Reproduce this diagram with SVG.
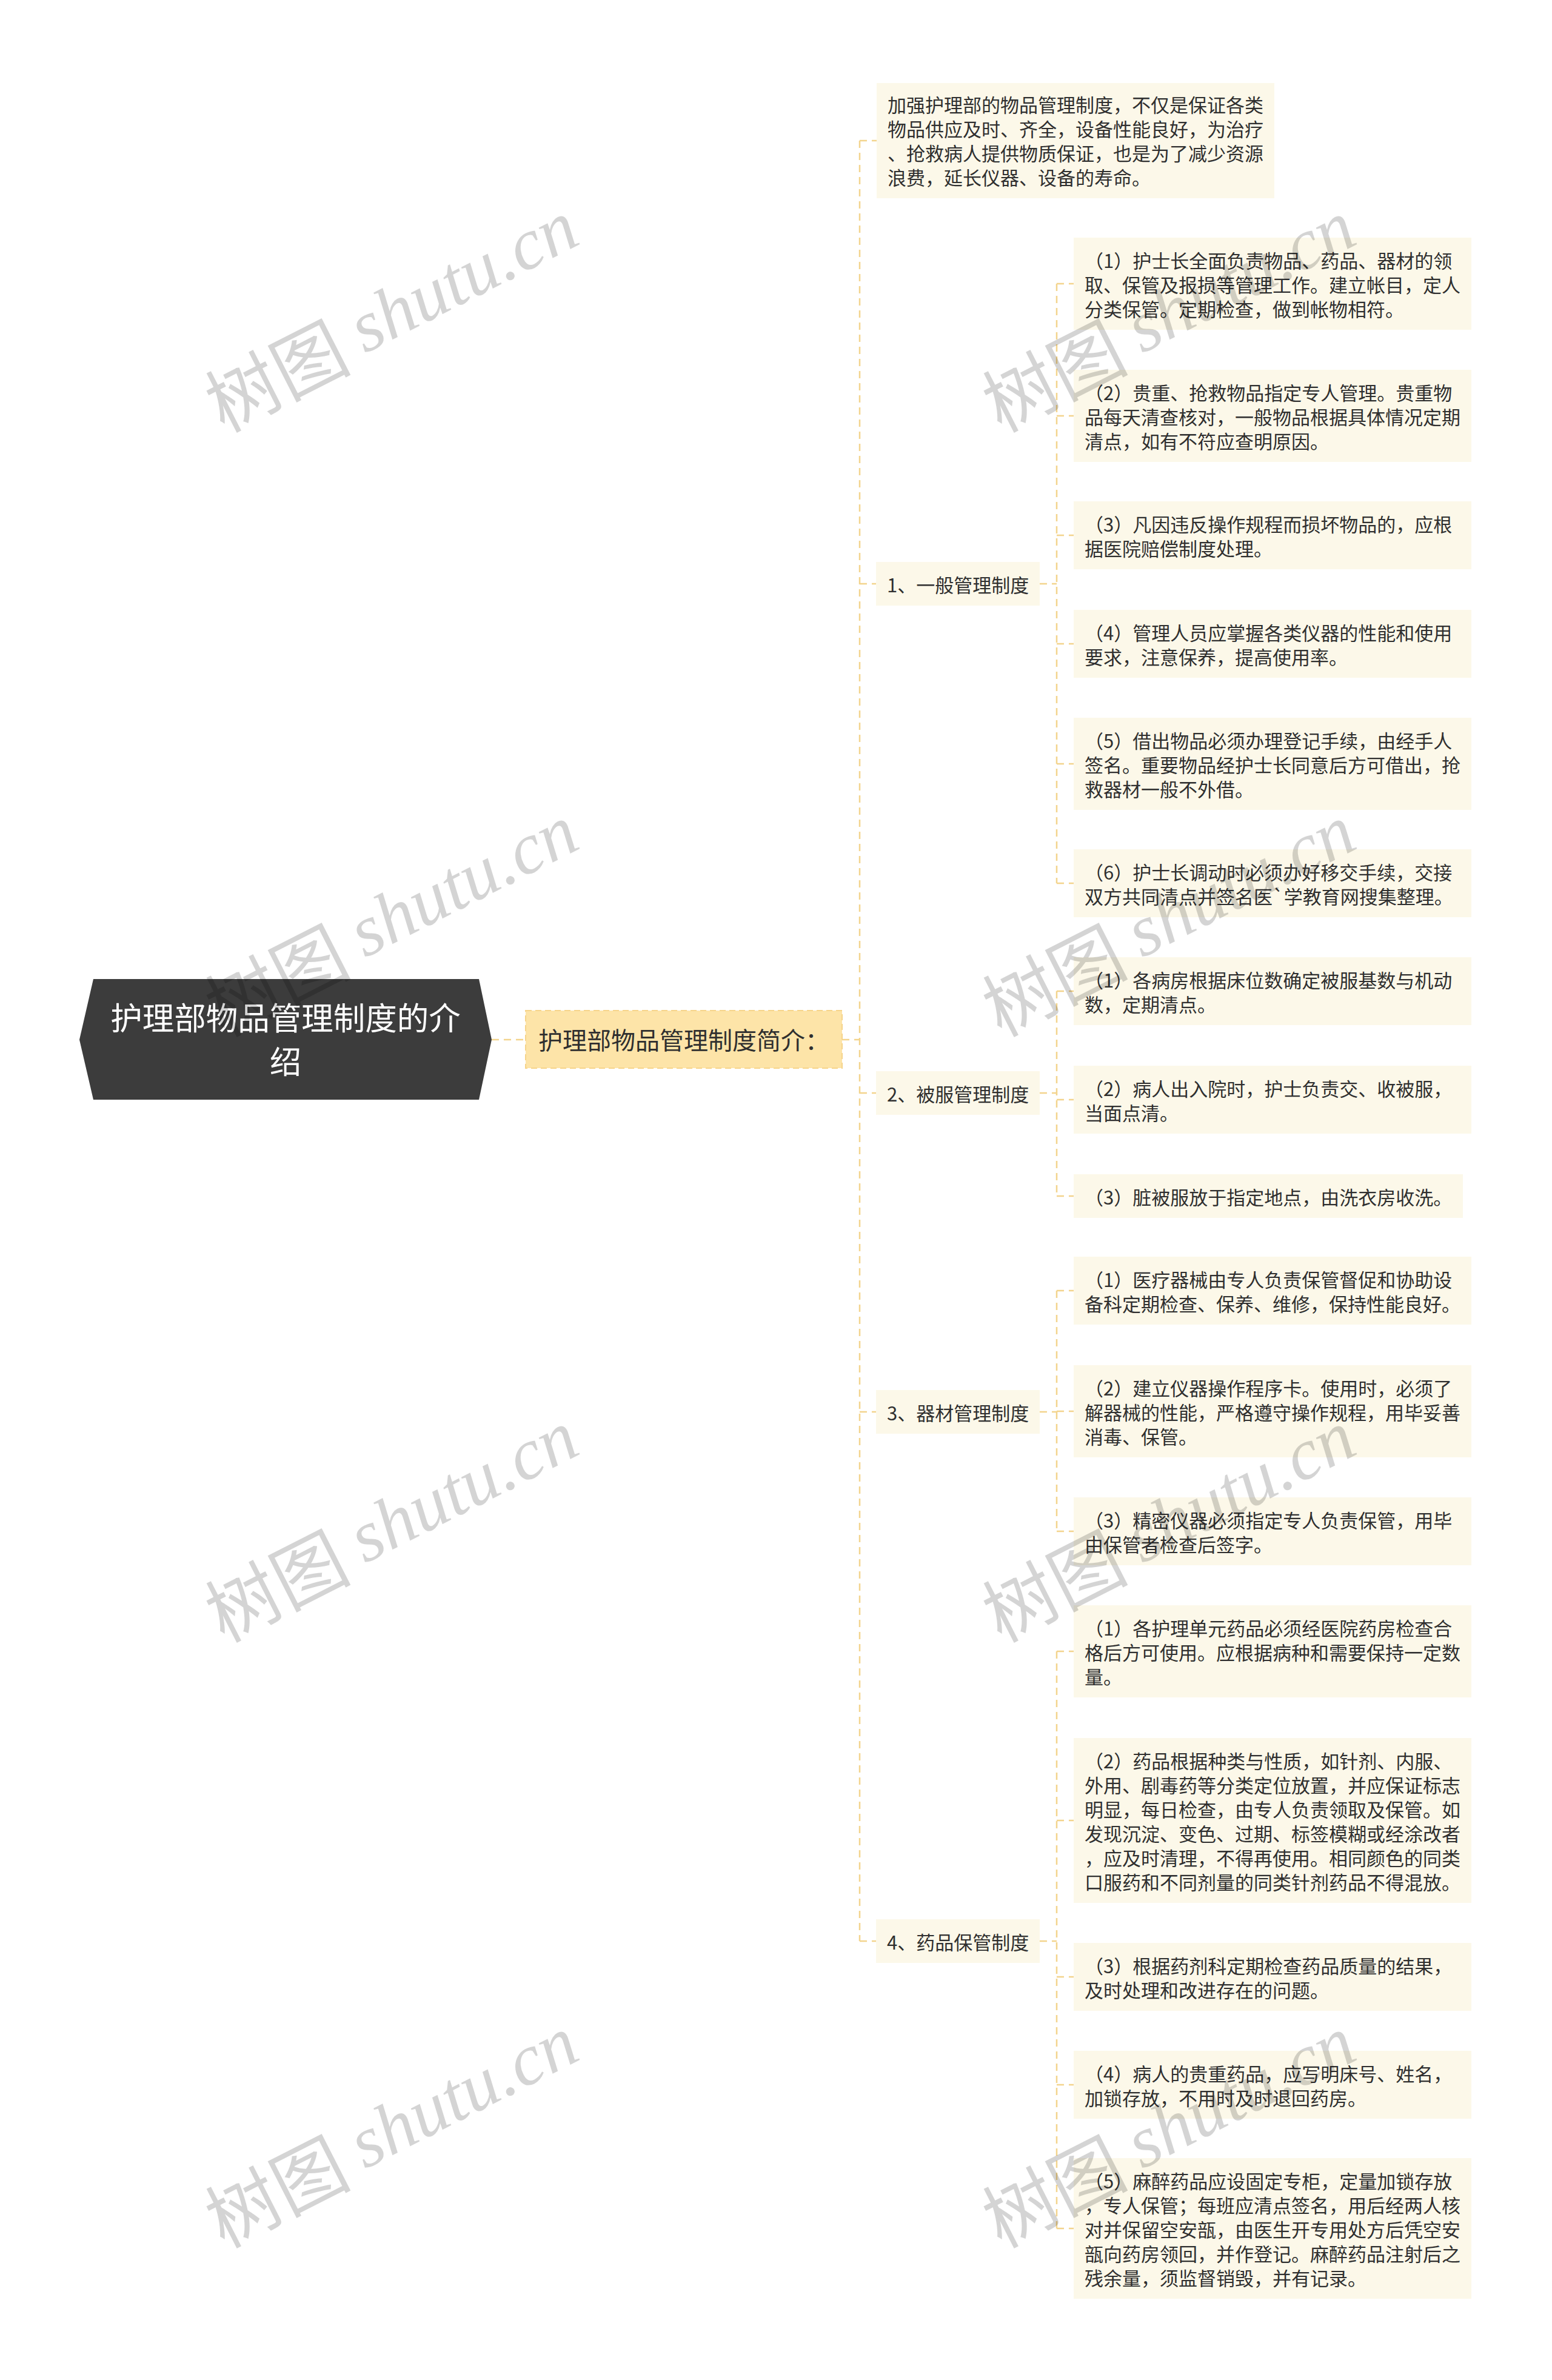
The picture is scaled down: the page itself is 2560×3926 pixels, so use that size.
<svg xmlns="http://www.w3.org/2000/svg" width="2560" height="3926" viewBox="0 0 2560 3926">
<style>
.bg{fill:#ffffff}
.conn{fill:none;stroke:#f3d48d;stroke-width:2.5;stroke-dasharray:12 8}
.box{fill:#fcf8e9}
.main{fill:#fde4a8;stroke:#f6d48a;stroke-width:2;stroke-dasharray:10 6}
.root{fill:#3c3c3c}
.t{font-family:"Noto Sans CJK SC","Microsoft YaHei",sans-serif;font-size:31px;fill:#2f2f2f;dominant-baseline:central}
.l1{font-family:"Noto Sans CJK SC","Microsoft YaHei",sans-serif;font-size:31px;fill:#2f2f2f;dominant-baseline:central}
.mt{font-family:"Noto Sans CJK SC","Microsoft YaHei",sans-serif;font-size:40px;fill:#2f2f2f;dominant-baseline:central}
.rt{font-family:"Noto Sans CJK SC","Microsoft YaHei",sans-serif;font-size:52.5px;fill:#ffffff;dominant-baseline:central;text-anchor:middle}
.wm{font-size:120px;fill:#000000;fill-opacity:0.17;text-anchor:middle;dominant-baseline:central}
.wmc{font-family:"Noto Sans CJK SC",serif}
.wml{font-family:"Liberation Serif",serif;font-style:italic}
</style>
<rect class="bg" x="0" y="0" width="2560" height="3926"/>

<g id="connectors">
<path class="conn" d="M811 1715 H867"/>
<path class="conn" d="M1389 1715 H1418"/>
<path class="conn" d="M1418 232 V3202"/>
<path class="conn" d="M1418 232 H1446"/>
<path class="conn" d="M1418 963 H1445"/>
<path class="conn" d="M1418 1803 H1445"/>
<path class="conn" d="M1418 2329 H1445"/>
<path class="conn" d="M1418 3202 H1445"/>
<path class="conn" d="M1715 963 H1743"/>
<path class="conn" d="M1743 468 V1457"/>
<path class="conn" d="M1743 468 H1771 M1743 686 H1771 M1743 883 H1771 M1743 1062 H1771 M1743 1260 H1771 M1743 1457 H1771"/>
<path class="conn" d="M1715 1803 H1743"/>
<path class="conn" d="M1743 1635 V1973"/>
<path class="conn" d="M1743 1635 H1771 M1743 1814 H1771 M1743 1973 H1771"/>
<path class="conn" d="M1715 2329 H1743"/>
<path class="conn" d="M1743 2129 V2526"/>
<path class="conn" d="M1743 2129 H1771 M1743 2328 H1771 M1743 2526 H1771"/>
<path class="conn" d="M1715 3202 H1743"/>
<path class="conn" d="M1743 2724 V3676"/>
<path class="conn" d="M1743 2724 H1771 M1743 3003 H1771 M1743 3261 H1771 M1743 3439 H1771 M1743 3676 H1771"/>
</g>

<g id="root">
<polygon class="root" points="131,1715 154,1615 790,1615 811,1715 790,1814 154,1814"/>
<text class="rt" x="471" y="1676">护理部物品管理制度的介</text>
<text class="rt" x="471" y="1748">绍</text>
</g>

<g id="main">
<rect class="main" x="867" y="1667" width="522" height="95"/>
<text class="mt" x="888" y="1714">护理部物品管理制度简介：</text>
</g>

<g id="intro">
<rect class="box" x="1446" y="137" width="656" height="190"/>
<text class="t" x="1464" y="171">加强护理部的物品管理制度，不仅是保证各类</text>
<text class="t" x="1464" y="211">物品供应及时、齐全，设备性能良好，为治疗</text>
<text class="t" x="1464" y="251">、抢救病人提供物质保证，也是为了减少资源</text>
<text class="t" x="1464" y="291">浪费，延长仪器、设备的寿命。</text>
</g>

<g id="g1">
<rect class="box" x="1445" y="927" width="270" height="72"/>
<text class="l1" x="1463" y="963">1、一般管理制度</text>
</g>
<g id="g1-1">
<rect class="box" x="1771" y="392" width="656" height="152"/>
<text class="t" x="1789" y="428">（1）护士长全面负责物品、药品、器材的领</text>
<text class="t" x="1789" y="468">取、保管及报损等管理工作。建立帐目，定人</text>
<text class="t" x="1789" y="508">分类保管。定期检查，做到帐物相符。</text>
</g>
<g id="g1-2">
<rect class="box" x="1771" y="610" width="656" height="152"/>
<text class="t" x="1789" y="646">（2）贵重、抢救物品指定专人管理。贵重物</text>
<text class="t" x="1789" y="686">品每天清查核对，一般物品根据具体情况定期</text>
<text class="t" x="1789" y="726">清点，如有不符应查明原因。</text>
</g>
<g id="g1-3">
<rect class="box" x="1771" y="827" width="656" height="112"/>
<text class="t" x="1789" y="863">（3）凡因违反操作规程而损坏物品的，应根</text>
<text class="t" x="1789" y="903">据医院赔偿制度处理。</text>
</g>
<g id="g1-4">
<rect class="box" x="1771" y="1006" width="656" height="112"/>
<text class="t" x="1789" y="1042">（4）管理人员应掌握各类仪器的性能和使用</text>
<text class="t" x="1789" y="1082">要求，注意保养，提高使用率。</text>
</g>
<g id="g1-5">
<rect class="box" x="1771" y="1184" width="656" height="152"/>
<text class="t" x="1789" y="1220">（5）借出物品必须办理登记手续，由经手人</text>
<text class="t" x="1789" y="1260">签名。重要物品经护士长同意后方可借出，抢</text>
<text class="t" x="1789" y="1300">救器材一般不外借。</text>
</g>
<g id="g1-6">
<rect class="box" x="1771" y="1401" width="656" height="112"/>
<text class="t" x="1789" y="1437">（6）护士长调动时必须办好移交手续，交接</text>
<text class="t" x="1789" y="1477">双方共同清点并签名医`学教育网搜集整理。</text>
</g>

<g id="g2">
<rect class="box" x="1445" y="1767" width="270" height="72"/>
<text class="l1" x="1463" y="1803">2、被服管理制度</text>
</g>
<g id="g2-1">
<rect class="box" x="1771" y="1579" width="656" height="112"/>
<text class="t" x="1789" y="1615">（1）各病房根据床位数确定被服基数与机动</text>
<text class="t" x="1789" y="1655">数，定期清点。</text>
</g>
<g id="g2-2">
<rect class="box" x="1771" y="1758" width="656" height="112"/>
<text class="t" x="1789" y="1794">（2）病人出入院时，护士负责交、收被服，</text>
<text class="t" x="1789" y="1834">当面点清。</text>
</g>
<g id="g2-3">
<rect class="box" x="1771" y="1937" width="642" height="72"/>
<text class="t" x="1789" y="1973">（3）脏被服放于指定地点，由洗衣房收洗。</text>
</g>

<g id="g3">
<rect class="box" x="1445" y="2293" width="270" height="72"/>
<text class="l1" x="1463" y="2329">3、器材管理制度</text>
</g>
<g id="g3-1">
<rect class="box" x="1771" y="2073" width="656" height="112"/>
<text class="t" x="1789" y="2109">（1）医疗器械由专人负责保管督促和协助设</text>
<text class="t" x="1789" y="2149">备科定期检查、保养、维修，保持性能良好。</text>
</g>
<g id="g3-2">
<rect class="box" x="1771" y="2252" width="656" height="152"/>
<text class="t" x="1789" y="2288">（2）建立仪器操作程序卡。使用时，必须了</text>
<text class="t" x="1789" y="2328">解器械的性能，严格遵守操作规程，用毕妥善</text>
<text class="t" x="1789" y="2368">消毒、保管。</text>
</g>
<g id="g3-3">
<rect class="box" x="1771" y="2470" width="656" height="112"/>
<text class="t" x="1789" y="2506">（3）精密仪器必须指定专人负责保管，用毕</text>
<text class="t" x="1789" y="2546">由保管者检查后签字。</text>
</g>

<g id="g4">
<rect class="box" x="1445" y="3166" width="270" height="72"/>
<text class="l1" x="1463" y="3202">4、药品保管制度</text>
</g>
<g id="g4-1">
<rect class="box" x="1771" y="2648" width="656" height="152"/>
<text class="t" x="1789" y="2684">（1）各护理单元药品必须经医院药房检查合</text>
<text class="t" x="1789" y="2724">格后方可使用。应根据病种和需要保持一定数</text>
<text class="t" x="1789" y="2764">量。</text>
</g>
<g id="g4-2">
<rect class="box" x="1771" y="2867" width="656" height="272"/>
<text class="t" x="1789" y="2903">（2）药品根据种类与性质，如针剂、内服、</text>
<text class="t" x="1789" y="2943">外用、剧毒药等分类定位放置，并应保证标志</text>
<text class="t" x="1789" y="2983">明显，每日检查，由专人负责领取及保管。如</text>
<text class="t" x="1789" y="3023">发现沉淀、变色、过期、标签模糊或经涂改者</text>
<text class="t" x="1789" y="3063">，应及时清理，不得再使用。相同颜色的同类</text>
<text class="t" x="1789" y="3103">口服药和不同剂量的同类针剂药品不得混放。</text>
</g>
<g id="g4-3">
<rect class="box" x="1771" y="3205" width="656" height="112"/>
<text class="t" x="1789" y="3241">（3）根据药剂科定期检查药品质量的结果，</text>
<text class="t" x="1789" y="3281">及时处理和改进存在的问题。</text>
</g>
<g id="g4-4">
<rect class="box" x="1771" y="3383" width="656" height="112"/>
<text class="t" x="1789" y="3419">（4）病人的贵重药品，应写明床号、姓名，</text>
<text class="t" x="1789" y="3459">加锁存放，不用时及时退回药房。</text>
</g>
<g id="g4-5">
<rect class="box" x="1771" y="3560" width="656" height="232"/>
<text class="t" x="1789" y="3596">（5）麻醉药品应设固定专柜，定量加锁存放</text>
<text class="t" x="1789" y="3636">，专人保管；每班应清点签名，用后经两人核</text>
<text class="t" x="1789" y="3676">对并保留空安瓿，由医生开专用处方后凭空安</text>
<text class="t" x="1789" y="3716">瓿向药房领回，并作登记。麻醉药品注射后之</text>
<text class="t" x="1789" y="3756">残余量，须监督销毁，并有记录。</text>
</g>

<g id="watermarks">
<text class="wm" transform="translate(644,516) rotate(-27)"><tspan class="wmc">树图 </tspan><tspan class="wml">shutu.cn</tspan></text>
<text class="wm" transform="translate(644,1513) rotate(-27)"><tspan class="wmc">树图 </tspan><tspan class="wml">shutu.cn</tspan></text>
<text class="wm" transform="translate(644,2512) rotate(-27)"><tspan class="wmc">树图 </tspan><tspan class="wml">shutu.cn</tspan></text>
<text class="wm" transform="translate(644,3511) rotate(-27)"><tspan class="wmc">树图 </tspan><tspan class="wml">shutu.cn</tspan></text>
<text class="wm" transform="translate(1926,516) rotate(-27)"><tspan class="wmc">树图 </tspan><tspan class="wml">shutu.cn</tspan></text>
<text class="wm" transform="translate(1926,1513) rotate(-27)"><tspan class="wmc">树图 </tspan><tspan class="wml">shutu.cn</tspan></text>
<text class="wm" transform="translate(1926,2512) rotate(-27)"><tspan class="wmc">树图 </tspan><tspan class="wml">shutu.cn</tspan></text>
<text class="wm" transform="translate(1926,3511) rotate(-27)"><tspan class="wmc">树图 </tspan><tspan class="wml">shutu.cn</tspan></text>
</g>
</svg>
